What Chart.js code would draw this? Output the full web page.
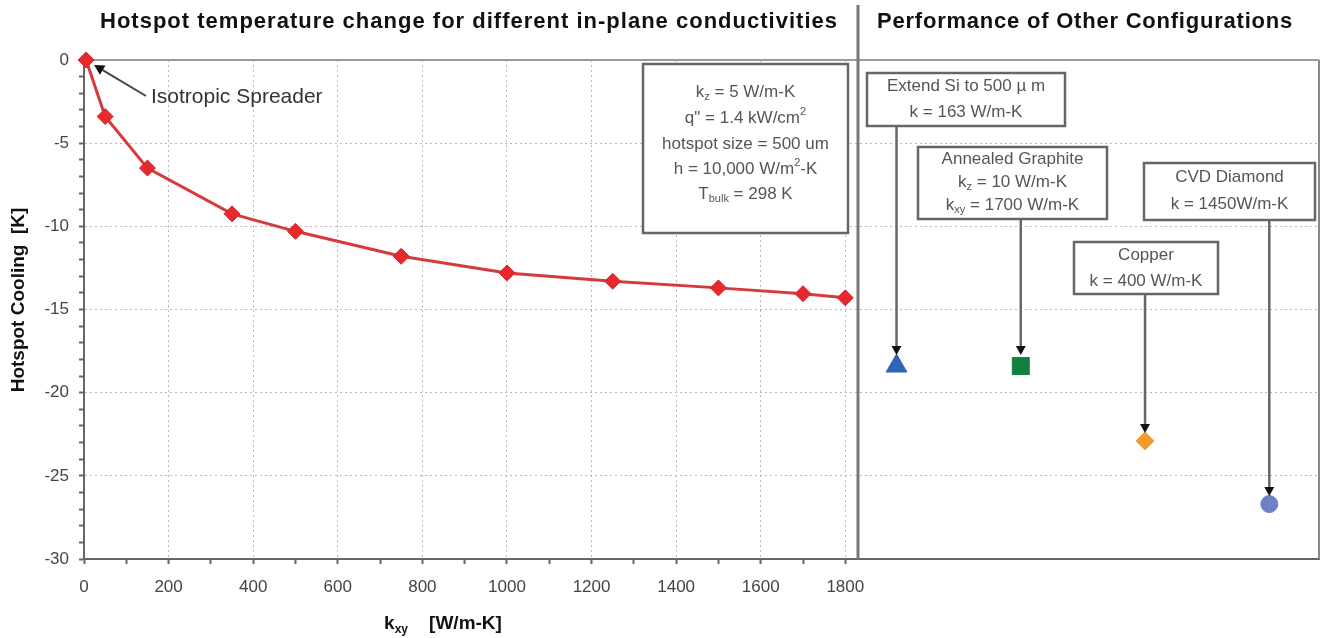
<!DOCTYPE html>
<html>
<head>
<meta charset="utf-8">
<script src="https://cdn.jsdelivr.net/npm/chart.js@4/dist/chart.umd.min.js"></script>
<style>
  html, body { margin: 0; padding: 0; background: #fff; }
  #wrap { position: relative; width: 1320px; height: 638px; }
</style>
</head>
<body>
<div id="wrap"><canvas id="c" width="1320" height="638"></canvas></div>
<script>
// In-plane conductivity sweep (kz = 5 W/m-K)
const kxy = [5, 50, 150, 350, 500, 750, 1000, 1250, 1500, 1700, 1800];
const cooling = [0, -3.4, -6.5, -9.25, -10.3, -11.8, -12.8, -13.3, -13.7, -14.05, -14.3];

// Other spreader configurations
const configs = ['Extend Si', 'Annealed Graphite', 'Copper', 'CVD Diamond'];
const configCooling = [-18.4, -18.4, -22.9, -26.7];
const configColors = ['#2f64b2', '#11803f', '#f29a2e', '#6f80c8'];
const configShapes = ['triangle', 'rect', 'rectRot', 'circle'];

// Axis ticks
const xTickLabels = [0, 200, 400, 600, 800, 1000, 1200, 1400, 1600, 1800];
const yTickLabels = [0, -5, -10, -15, -20, -25, -30];

// Label texts; [text, 'sub'|'sup'] marks a sub/superscript run
const paramNote = [
  ['k', ['z', 'sub'], ' = 5 W/m-K'],
  ['q" = 1.4 kW/cm', ['2', 'sup']],
  ['hotspot size = 500 um'],
  ['h = 10,000 W/m', ['2', 'sup'], '-K'],
  ['T', ['bulk', 'sub'], ' = 298 K']
];
const configNotes = [
  [['Extend Si to 500 \u00b5 m'], ['k = 163 W/m-K']],
  [['Annealed Graphite'], ['k', ['z', 'sub'], ' = 10 W/m-K'], ['k', ['xy', 'sub'], ' = 1700 W/m-K']],
  [['Copper'], ['k = 400 W/m-K']],
  [['CVD Diamond'], ['k = 1450W/m-K']]
];

const FAMILY = '"Liberation Sans", Arial, Helvetica, sans-serif';

function richLine(ctx, segs, cx, y, size, color, weight, align) {
  const parts = segs.map(s => typeof s === 'string' ? { t: s, k: '' } : { t: s[0], k: s[1] });
  const fontFor = p => `${weight} ${p.k ? Math.round(size * 0.65) : size}px ${FAMILY}`;
  let w = 0;
  parts.forEach(p => { ctx.font = fontFor(p); p.w = ctx.measureText(p.t).width; w += p.w; });
  let x = align === 'left' ? cx : cx - w / 2;
  ctx.fillStyle = color;
  ctx.textBaseline = 'middle';
  ctx.textAlign = 'left';
  parts.forEach(p => {
    ctx.font = fontFor(p);
    const dy = p.k === 'sub' ? size * 0.32 : p.k === 'sup' ? -size * 0.35 : 0;
    ctx.fillText(p.t, x, y + dy);
    x += p.w;
  });
}

// Spread a heading out to a given width, centred on cx
function spreadText(ctx, text, cx, y, width, font, color) {
  ctx.save();
  ctx.font = font;
  ctx.fillStyle = color;
  ctx.textBaseline = 'middle';
  const w0 = ctx.measureText(text).width;
  if ('letterSpacing' in ctx) {
    ctx.letterSpacing = Math.max(0, (width - w0) / text.length) + 'px';
    const w1 = ctx.measureText(text).width;
    ctx.textAlign = 'left';
    ctx.fillText(text, cx - w1 / 2, y);
  } else {
    ctx.translate(cx, y);
    ctx.scale(Math.max(1, width / w0), 1);
    ctx.textAlign = 'center';
    ctx.fillText(text, 0, 0);
  }
  ctx.restore();
}

function arrow(ctx, x1, y1, x2, y2, color, width, head) {
  const ang = Math.atan2(y2 - y1, x2 - x1);
  const bx = x2 - Math.cos(ang) * head, by = y2 - Math.sin(ang) * head;
  ctx.save();
  ctx.strokeStyle = color;
  ctx.fillStyle = '#111';
  ctx.lineWidth = width;
  ctx.beginPath();
  ctx.moveTo(x1, y1);
  ctx.lineTo(bx, by);
  ctx.stroke();
  const hw = head * 0.55;
  ctx.beginPath();
  ctx.moveTo(x2, y2);
  ctx.lineTo(bx + Math.sin(ang) * hw, by - Math.cos(ang) * hw);
  ctx.lineTo(bx - Math.sin(ang) * hw, by + Math.cos(ang) * hw);
  ctx.closePath();
  ctx.fill();
  ctx.restore();
}

function noteBox(ctx, x, y, w, h, lines, lineYs, size) {
  ctx.save();
  ctx.fillStyle = '#fff';
  ctx.fillRect(x, y, w, h);
  ctx.strokeStyle = '#666';
  ctx.lineWidth = 2.5;
  ctx.strokeRect(x, y, w, h);
  lines.forEach((segs, i) => richLine(ctx, segs, x + w / 2, lineYs[i], size, '#555', 'normal'));
  ctx.restore();
}

const frameAndNotes = {
  id: 'frameAndNotes',
  beforeDatasetsDraw(chart) {
    const { ctx, chartArea: a } = chart;
    const split = chart.scales.x2.left;
    ctx.save();
    // top and right frame
    ctx.strokeStyle = '#9a9a9a';
    ctx.lineWidth = 2;
    ctx.beginPath();
    ctx.moveTo(a.left, a.top);
    ctx.lineTo(a.right, a.top);
    ctx.stroke();
    ctx.strokeStyle = '#888';
    ctx.beginPath();
    ctx.moveTo(a.right, a.top);
    ctx.lineTo(a.right, a.bottom);
    ctx.stroke();
    // divider between the two panels
    ctx.strokeStyle = '#777';
    ctx.lineWidth = 3;
    ctx.beginPath();
    ctx.moveTo(split, 5);
    ctx.lineTo(split, a.bottom);
    ctx.stroke();
    ctx.restore();
  },
  afterDatasetsDraw(chart) {
    const { ctx, chartArea: a } = chart;
    const xs = chart.scales.x, x2 = chart.scales.x2, ys = chart.scales.y;

    // panel titles
    spreadText(ctx, 'Hotspot temperature change for different in-plane conductivities',
      469, 22, 738, `bold 22px ${FAMILY}`, '#111');
    spreadText(ctx, 'Performance of Other Configurations',
      1085, 22, 416, `bold 22px ${FAMILY}`, '#111');

    // axis titles
    ctx.save();
    ctx.translate(19, 300);
    ctx.rotate(-Math.PI / 2);
    ctx.font = `bold 19px ${FAMILY}`;
    ctx.fillStyle = '#111';
    ctx.textAlign = 'center';
    ctx.textBaseline = 'middle';
    ctx.fillText('Hotspot Cooling  [K]', 0, 0);
    ctx.restore();
    ctx.save();
    richLine(ctx, ['k', ['xy', 'sub'], '    [W/m-K]'], 443, 624, 19, '#111', 'bold');
    ctx.restore();

    // isotropic point callout
    const p0x = xs.getPixelForValue(kxy[0]), p0y = ys.getPixelForValue(cooling[0]);
    arrow(ctx, 146, 96, p0x + 8, p0y + 5, '#444', 2, 10);
    ctx.save();
    ctx.fillStyle = '#333';
    ctx.font = `21px ${FAMILY}`;
    ctx.textAlign = 'left';
    ctx.textBaseline = 'middle';
    ctx.fillText('Isotropic Spreader', 151, 97);
    ctx.restore();

    // simulation parameters
    noteBox(ctx, 643, 64, 205, 169, paramNote, [92, 118, 144, 169, 194], 17);

    // configuration labels with leaders to their markers
    const boxes = [
      { x: 867, y: 73, w: 198, h: 53, ys: [86, 112] },
      { x: 918, y: 147, w: 189, h: 72, ys: [159, 182, 205] },
      { x: 1074, y: 242, w: 144, h: 52, ys: [255, 281] },
      { x: 1144, y: 163, w: 171, h: 57, ys: [177, 204] }
    ];
    const radii = [12, 12, 9, 9];
    configs.forEach((name, i) => {
      const mx = x2.getPixelForValue(i), my = ys.getPixelForValue(configCooling[i]);
      const b = boxes[i];
      arrow(ctx, mx, b.y + b.h, mx, my - radii[i] + 1, '#666', 2.5, 9);
    });
    configs.forEach((name, i) => {
      const b = boxes[i];
      noteBox(ctx, b.x, b.y, b.w, b.h, configNotes[i], b.ys, 17);
    });
  }
};

const noPad = s => { s.paddingLeft = 0; s.paddingRight = 0; s.paddingTop = 0; s.paddingBottom = 0; };
const gridDash = [2, 3];
const ctx = document.getElementById('c').getContext('2d');
new Chart(ctx, {
  data: {
    datasets: [
      {
        type: 'line',
        label: 'Hotspot cooling',
        data: kxy.map((k, i) => ({ x: k, y: cooling[i] })),
        xAxisID: 'x',
        yAxisID: 'y',
        borderColor: '#d63a3c',
        borderWidth: 3,
        tension: 0,
        pointStyle: 'rectRot',
        pointRadius: 8,
        pointBackgroundColor: '#e8282d',
        pointBorderColor: '#d0282c',
        pointBorderWidth: 1,
        clip: false
      },
      {
        type: 'scatter',
        label: 'Other configurations',
        data: configCooling.map((v, i) => ({ x: i, y: v })),
        xAxisID: 'x2',
        yAxisID: 'y',
        pointStyle: configShapes,
        pointRadius: [12, 12, 9, 8.5],
        pointBackgroundColor: configColors,
        pointBorderColor: configColors,
        pointBorderWidth: 1,
        showLine: false,
        clip: false
      }
    ]
  },
  options: {
    responsive: false,
    animation: false,
    devicePixelRatio: 1,
    layout: { autoPadding: false, padding: { top: 60, right: 1, bottom: 0, left: 0 } },
    plugins: { legend: { display: false }, tooltip: { enabled: false } },
    scales: {
      x: {
        type: 'linear',
        position: 'bottom',
        stack: 'k',
        stackWeight: 774,
        min: 0,
        max: 1830,
        afterFit: s => { s.height = 79; noPad(s); },
        ticks: {
          stepSize: 100,
          includeBounds: false,
          autoSkip: false,
          maxRotation: 0,
          minRotation: 0,
          padding: 13,
          color: '#444',
          font: { size: 17, family: FAMILY },
          callback: v => xTickLabels.includes(v) ? String(v) : ''
        },
        grid: {
          color: c => (c.tick && c.tick.value > 0 && xTickLabels.includes(c.tick.value)) ? '#b8b8b8' : 'transparent',
          lineWidth: 1,
          tickColor: '#666',
          tickLength: 5,
          tickWidth: 2
        },
        border: { display: true, color: '#666', width: 2, dash: gridDash }
      },
      x2: {
        type: 'linear',
        position: 'bottom',
        stack: 'k',
        stackWeight: 461,
        min: -0.31,
        max: 3.4,
        afterFit: s => { s.height = 79; noPad(s); },
        ticks: { display: false },
        grid: { display: true, drawOnChartArea: false, drawTicks: false },
        border: { display: true, color: '#666', width: 2 }
      },
      y: {
        type: 'linear',
        position: 'left',
        min: -30,
        max: 0,
        afterFit: s => { s.width = 84; noPad(s); },
        ticks: {
          stepSize: 1,
          autoSkip: false,
          padding: 10,
          color: '#444',
          font: { size: 17, family: FAMILY },
          callback: v => yTickLabels.includes(v) ? String(v) : ''
        },
        grid: {
          color: c => (c.tick && c.tick.value < 0 && c.tick.value > -30 && yTickLabels.includes(c.tick.value)) ? '#b8b8b8' : 'transparent',
          lineWidth: 1,
          tickColor: '#666',
          tickLength: 5,
          tickWidth: 2
        },
        border: { display: true, color: '#666', width: 2, dash: gridDash }
      }
    }
  },
  plugins: [frameAndNotes]
});
</script>
</body>
</html>
